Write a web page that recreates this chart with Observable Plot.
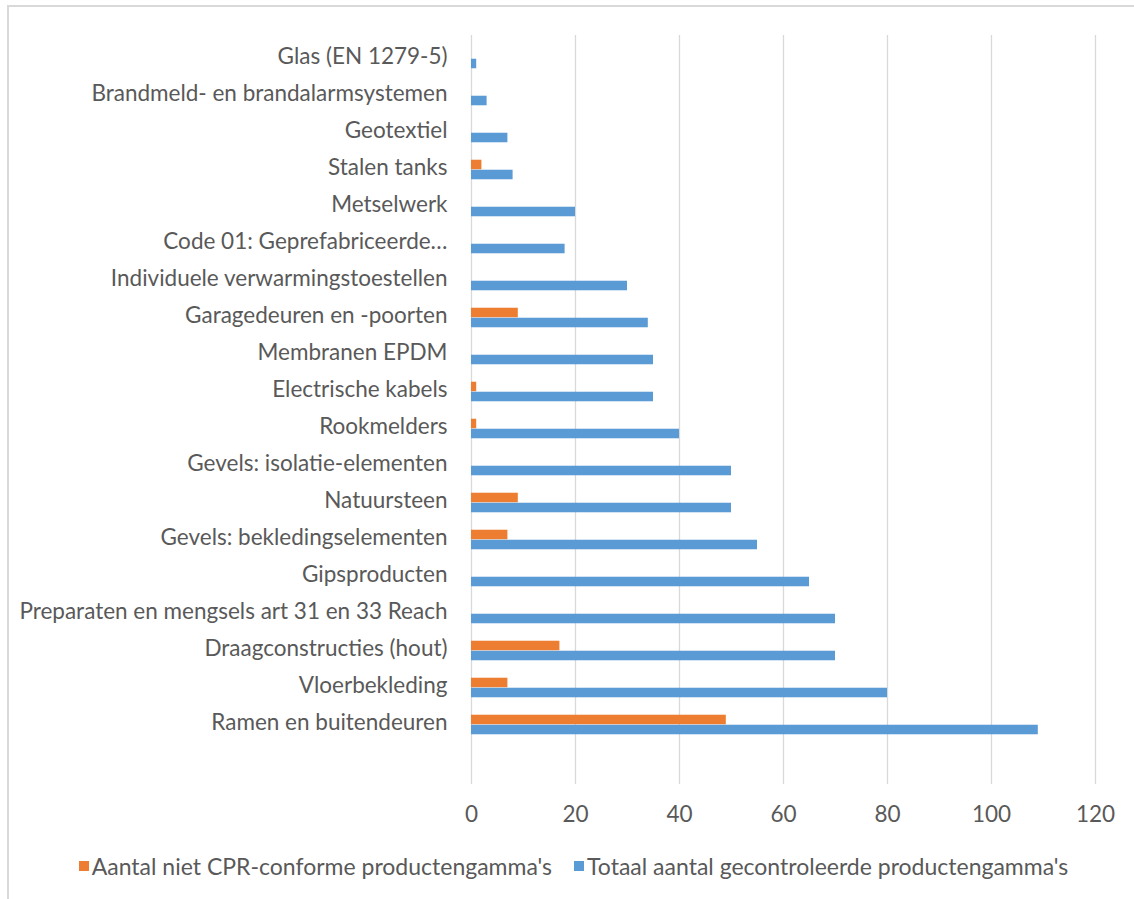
<!DOCTYPE html>
<html>
<head>
<meta charset="utf-8">
<script src="https://cdn.jsdelivr.net/npm/d3@7"></script>
<script src="https://cdn.jsdelivr.net/npm/@observablehq/plot@0.6"></script>
<style>
  html, body { margin: 0; padding: 0; background: #fff; }
  body { width: 1134px; height: 899px; position: relative; overflow: hidden; font-family: Lato, "Open Sans", sans-serif; }
  #frameTop { position: absolute; left: 8px; top: 5px; width: 1126px; height: 2px; background: #d9d9d9; }
  #frameLeft { position: absolute; left: 7px; top: 5px; width: 2px; height: 894px; background: #d9d9d9; }
  #chart { position: absolute; left: 0; top: 0; }
  #legend { position: absolute; left: 0; top: 852px; width: 1147px; display: flex; justify-content: center; align-items: center; font-size: 23px; color: #595959; }
  .item { display: flex; align-items: center; }
  .sw { width: 10px; height: 10px; margin-right: 3px; }
  .item + .item { margin-left: 22px; }
</style>
</head>
<body>
<div id="frameTop"></div>
<div id="frameLeft"></div>
<div id="chart"></div>
<div id="legend"></div>
<script>
const categories = [
  "Glas (EN 1279-5)",
  "Brandmeld- en brandalarmsystemen",
  "Geotextiel",
  "Stalen tanks",
  "Metselwerk",
  "Code 01: Geprefabriceerde…",
  "Individuele verwarmingstoestellen",
  "Garagedeuren en -poorten",
  "Membranen EPDM",
  "Electrische kabels",
  "Rookmelders",
  "Gevels: isolatie-elementen",
  "Natuursteen",
  "Gevels: bekledingselementen",
  "Gipsproducten",
  "Preparaten en mengsels art 31 en 33 Reach",
  "Draagconstructies (hout)",
  "Vloerbekleding",
  "Ramen en buitendeuren"
];
const nietConform = [0, 0, 0, 2, 0, 0, 0, 9, 0, 1, 1, 0, 9, 7, 0, 0, 17, 7, 49];
const totaal = [1, 3, 7, 8, 20, 18, 30, 34, 35, 35, 40, 50, 50, 55, 65, 70, 70, 80, 109];
const seriesNames = ["Aantal niet CPR-conforme productengamma's", "Totaal aantal gecontroleerde productengamma's"];
const seriesColors = ["#ED7D31", "#5B9BD5"];
const xTicks = [0, 20, 40, 60, 80, 100, 120];

const blankCat = " ";
const orangeData = categories.map((c, i) => ({cat: c, v: nietConform[i]})).filter(d => d.v > 0);
const blueData = categories.map((c, i) => ({cat: c, v: totaal[i]}));

const plotTop = 35, plotBottom = 784, svgH = 834;
const band = (plotBottom - plotTop) / (categories.length + 1);
const barH = 10;
const half = band / 2;

const chart = Plot.plot({
  width: 1134,
  height: svgH,
  marginLeft: 471,
  marginRight: 39,
  marginTop: plotTop,
  marginBottom: svgH - plotBottom,
  style: {fontFamily: "Lato, 'Open Sans', sans-serif", fontSize: "22.5px", color: "#595959", background: "transparent"},
  x: {domain: [0, 120], ticks: xTicks, label: null, tickSize: 0, tickPadding: 22},
  y: {domain: [...categories, blankCat], padding: 0, label: null, tickSize: 0, tickPadding: 24},
  marks: [
    Plot.ruleX(xTicks, {stroke: "#d9d9d9", strokeWidth: 1.3}),
    Plot.barX(orangeData, {x: "v", y: "cat", fill: seriesColors[0], insetTop: half - barH, insetBottom: half}),
    Plot.barX(blueData, {x: "v", y: "cat", fill: seriesColors[1], insetTop: half, insetBottom: half - barH}),
    Plot.axisY({tickSize: 0, tickPadding: 24, dy: -2, label: null, fontSize: "22.5px"})
  ]
});
document.getElementById("chart").appendChild(chart);

const legend = document.getElementById("legend");
seriesNames.forEach((n, i) => {
  const it = document.createElement("div");
  it.className = "item";
  const sw = document.createElement("span");
  sw.className = "sw";
  sw.style.background = seriesColors[i];
  const t = document.createElement("span");
  t.textContent = n;
  it.appendChild(sw);
  it.appendChild(t);
  legend.appendChild(it);
});
</script>
</body>
</html>
